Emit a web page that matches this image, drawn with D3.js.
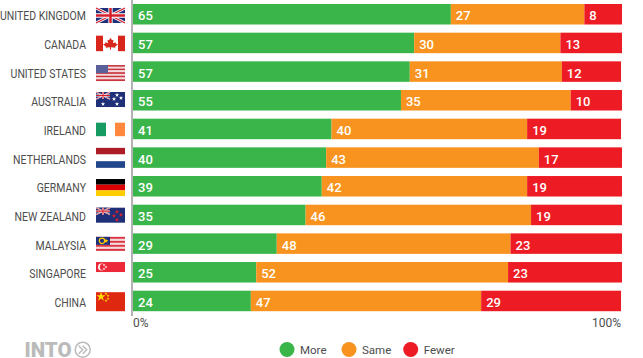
<!DOCTYPE html>
<html>
<head>
<meta charset="utf-8">
<script src="https://cdnjs.cloudflare.com/ajax/libs/d3/7.8.5/d3.min.js"></script>
<style>
    html, body { margin: 0; padding: 0; background: #fff; }
    svg { display: block; }
    text { font-family: Roboto, sans-serif; }
</style>
</head>
<body>
<div id="chart"></div>
<script>
const countries = ["UNITED KINGDOM", "CANADA", "UNITED STATES", "AUSTRALIA", "IRELAND", "NETHERLANDS", "GERMANY", "NEW ZEALAND", "MALAYSIA", "SINGAPORE", "CHINA"];

// printed labels
const moreLabels = [65, 57, 57, 55, 41, 40, 39, 35, 29, 25, 24];
const sameLabels = [27, 30, 31, 35, 40, 43, 42, 46, 48, 52, 47];
const fewerLabels = [8, 13, 12, 10, 19, 17, 19, 19, 23, 23, 29];

// bar lengths, they differ a little from the labels
const more = [65.0, 57.5, 56.6, 54.8, 40.6, 39.5, 38.6, 35.3, 29.4, 25.2, 24.1];
const same = [27.3, 29.9, 31.1, 34.7, 40.0, 43.5, 42.0, 46.1, 47.8, 51.5, 47.1];
const fewer = [7.7, 12.6, 12.1, 10.5, 19.2, 17.0, 19.4, 18.6, 22.8, 23.3, 28.6];

const seriesNames = ["More", "Same", "Fewer"];
const seriesColors = ["#39b54a", "#f7931e", "#ed1c24"];
const seriesLabels = [moreLabels, sameLabels, fewerLabels];
const xTicks = [0, 100];

const width = 643, height = 358;
const margin = {top: 4, right: 21, bottom: 46.8, left: 133};

const svg = d3.select("#chart").append("svg")
    .attr("width", width)
    .attr("height", height);

const x = d3.scaleLinear()
    .domain([0, 100])
    .range([margin.left, width - margin.right]);

const y = d3.scaleBand()
    .domain(countries)
    .range([margin.top, height - margin.bottom])
    .paddingInner(0.285)
    .paddingOuter(0);

// stack the three series per country
const rows = countries.map((c, i) => ({country: c, More: more[i], Same: same[i], Fewer: fewer[i]}));
const stacked = d3.stack().keys(seriesNames)(rows);

const layers = svg.selectAll(".layer")
    .data(stacked)
    .enter()
    .append("g")
    .attr("class", "layer")
    .attr("fill", (d, i) => seriesColors[i]);

layers.selectAll("rect")
    .data(d => d)
    .enter()
    .append("rect")
    .attr("x", d => x(d[0]))
    .attr("y", d => y(d.data.country))
    .attr("width", d => x(d[1]) - x(d[0]))
    .attr("height", y.bandwidth());

layers.selectAll("text")
    .data((d, s) => d.map((v, i) => ({v: v, label: seriesLabels[s][i]})))
    .enter()
    .append("text")
    .attr("x", d => x(d.v[0]) + 5)
    .attr("y", d => y(d.v.data.country) + y.bandwidth() / 2 + 6)
    .attr("fill", "#fff")
    .attr("font-size", 13)
    .attr("font-weight", 500)
    .text(d => d.label);

// axis line on the left of the bars
svg.append("line")
    .attr("x1", margin.left - 1)
    .attr("x2", margin.left - 1)
    .attr("y1", 0)
    .attr("y2", 316)
    .attr("stroke", "#999")
    .attr("stroke-width", 1.5);

// country labels, squeezed a little because the original face is narrow
svg.selectAll(".country")
    .data(countries)
    .enter()
    .append("text")
    .attr("class", "country")
    .attr("transform", d => `translate(86,${y(d) + y.bandwidth() / 2 + 6})scale(0.84,1)`)
    .attr("text-anchor", "end")
    .attr("fill", "#4d4d4d")
    .attr("font-size", 12.5)
    .text(d => d);

// tick labels
svg.selectAll(".tick-label")
    .data(xTicks)
    .enter()
    .append("text")
    .attr("class", "tick-label")
    .attr("x", d => x(d) - (d === 0 ? 0 : 1))
    .attr("y", 327)
    .attr("text-anchor", d => d === 0 ? "start" : "end")
    .attr("fill", "#4d4d4d")
    .attr("font-size", 12)
    .text(d => d + "%");

// flags, each drawn in a 29 wide box from the top of its bar
const flagW = 29;
const navy = "#1f2f78", flagRed = "#d5202c";

function bands(g, colors, top, h) {
    colors.forEach((c, i) => {
        g.append("rect").attr("x", 0).attr("y", top + i * h / colors.length)
            .attr("width", flagW).attr("height", h / colors.length).attr("fill", c);
    });
}

function union(g, w, h) {
    g.append("rect").attr("width", w).attr("height", h).attr("fill", navy);
    g.append("path").attr("d", `M0,0L${w},${h}M${w},0L0,${h}`).attr("stroke", "#fff").attr("stroke-width", h / 5);
    g.append("path").attr("d", `M0,0L${w},${h}M${w},0L0,${h}`).attr("stroke", flagRed).attr("stroke-width", h / 12);
    g.append("path").attr("d", `M${w / 2},0V${h}M0,${h / 2}H${w}`).attr("stroke", "#fff").attr("stroke-width", h / 3.5);
    g.append("path").attr("d", `M${w / 2},0V${h}M0,${h / 2}H${w}`).attr("stroke", flagRed).attr("stroke-width", h / 6);
}

function stars(g, pts, color, r) {
    pts.forEach(p => {
        g.append("path")
            .attr("d", d3.symbol().type(d3.symbolStar).size(r * r * 3)())
            .attr("transform", `translate(${p[0]},${p[1]})`)
            .attr("fill", color);
    });
}

const flags = {
    "UNITED KINGDOM": g => union(g.append("g").attr("transform", "translate(0,4)"), flagW, 15),
    "CANADA": g => {
        g.append("rect").attr("y", 3).attr("width", 7).attr("height", 15.5).attr("fill", "#d9261c");
        g.append("rect").attr("x", 22).attr("y", 3).attr("width", 7).attr("height", 15.5).attr("fill", "#d9261c");
        // maple leaf
        g.append("path")
            .attr("d", "M14.5,5L16,7.5L17.5,7L17,10.5L19.5,9.5L20,11L22,11.5L19,14L19.5,15L15,14.5V17H14V14.5L9.5,15L10,14L7,11.5L9,11L9.5,9.5L12,10.5L11.5,7L13,7.5Z")
            .attr("fill", "#d9261c");
    },
    "UNITED STATES": g => {
        bands(g, ["#c9353f", "#f4d9da", "#c9353f", "#f4d9da", "#c9353f", "#f4d9da", "#c9353f", "#f4d9da", "#c9353f"], 3.7, 16);
        g.append("rect").attr("y", 3.7).attr("width", 12).attr("height", 8).attr("fill", "#5a6099");
    },
    "AUSTRALIA": g => {
        g.append("rect").attr("y", 2).attr("width", flagW).attr("height", 15).attr("fill", navy);
        union(g.append("g").attr("transform", "translate(0,2)"), 14, 7);
        stars(g, [[7, 14], [21, 5], [21, 14], [25, 8], [18, 9]], "#fff", 1.4);
    },
    "IRELAND": g => {
        g.append("rect").attr("y", 4).attr("width", 10).attr("height", 13.5).attr("fill", "#169b62");
        g.append("rect").attr("x", 19).attr("y", 4).attr("width", 10).attr("height", 13.5).attr("fill", "#ff883e");
    },
    "NETHERLANDS": g => bands(g, ["#ae1c28", "#fff", "#21468b"], 0.5, 20),
    "GERMANY": g => bands(g, ["#000", "#dd0000", "#ffce00"], 3, 17),
    "NEW ZEALAND": g => {
        g.append("rect").attr("y", 3).attr("width", flagW).attr("height", 15).attr("fill", navy);
        union(g.append("g").attr("transform", "translate(0,3)"), 14, 7);
        stars(g, [[21, 7], [25, 10], [18, 11], [21, 15]], flagRed, 1.5);
    },
    "MALAYSIA": g => {
        bands(g, ["#d9343f", "#f4d9da", "#d9343f", "#f4d9da", "#d9343f", "#f4d9da", "#d9343f"], 3.5, 14);
        g.append("rect").attr("y", 3.5).attr("width", 14).attr("height", 8).attr("fill", navy);
        g.append("circle").attr("cx", 6).attr("cy", 7.5).attr("r", 2.7).attr("fill", "none").attr("stroke", "#ffcc00").attr("stroke-width", 1.2);
        stars(g, [[10, 7.5]], "#ffcc00", 1.6);
    },
    "SINGAPORE": g => {
        g.append("rect").attr("y", 0).attr("width", flagW).attr("height", 10).attr("fill", "#ed2939");
        g.append("circle").attr("cx", 5.5).attr("cy", 5).attr("r", 3.5).attr("fill", "#fff");
        g.append("circle").attr("cx", 7).attr("cy", 5).attr("r", 3.2).attr("fill", "#ed2939");
        stars(g, [[8, 3], [10, 5], [8, 7]], "#fff", 0.9);
    },
    "CHINA": g => {
        g.append("rect").attr("y", 1.5).attr("width", flagW).attr("height", 19).attr("fill", "#de2910");
        stars(g, [[5, 6]], "#ffde00", 3);
        stars(g, [[10, 3], [12, 5], [12, 8], [10, 10]], "#ffde00", 1);
    }
};

svg.selectAll(".flag")
    .data(countries)
    .enter()
    .append("g")
    .attr("class", "flag")
    .attr("transform", d => `translate(96,${y(d)})`)
    .each(function(d) { flags[d](d3.select(this)); });

// legend
const legendX = [287, 349, 410.7];
const legend = svg.selectAll(".legend")
    .data(seriesNames)
    .enter()
    .append("g")
    .attr("class", "legend")
    .attr("transform", (d, i) => `translate(${legendX[i]},349.5)`);

legend.append("circle")
    .attr("r", 7.5)
    .attr("fill", (d, i) => seriesColors[i]);

legend.append("text")
    .attr("x", 13)
    .attr("y", 4)
    .attr("fill", "#4d4d4d")
    .attr("font-size", 11.5)
    .text(d => d);

// logo
svg.append("text")
    .attr("x", 24.5)
    .attr("y", 357)
    .attr("fill", "#bbb")
    .attr("font-size", 20.5)
    .attr("font-weight", 900)
    .text("INTO");

const logo = svg.append("g").attr("transform", "translate(82.7,349.7)");
logo.append("circle").attr("r", 7.5).attr("fill", "none").attr("stroke", "#bbb").attr("stroke-width", 1.5);
logo.append("path").attr("d", "M-4,-4L0,0L-4,4M0,-4L4,0L0,4").attr("fill", "none").attr("stroke", "#bbb").attr("stroke-width", 1.5);
</script>
</body>
</html>
